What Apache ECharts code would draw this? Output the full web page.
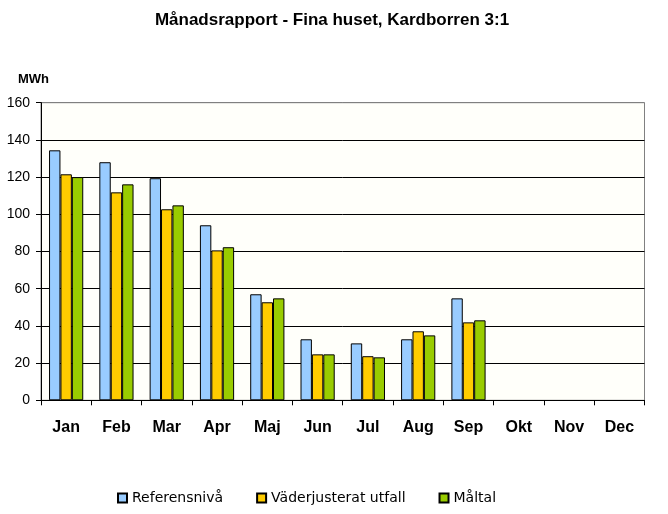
<!DOCTYPE html>
<html>
<head>
<meta charset="utf-8">
<script src="https://cdn.jsdelivr.net/npm/echarts@6/dist/echarts.min.js"></script>
<style>html,body{margin:0;padding:0;background:#fff;}#c{width:668px;height:514px;}</style>
</head>
<body>
<div id="c"></div>
<script>
const months = ['Jan','Feb','Mar','Apr','Maj','Jun','Jul','Aug','Sep','Okt','Nov','Dec'];
const referens = [134.4, 128, 119.4, 94.1, 57, 32.8, 30.6, 32.8, 54.8, null, null, null];
const vaderjusterat = [121.5, 111.8, 102.7, 80.6, 52.7, 24.7, 23.7, 37.1, 41.9, null, null, null];
const maltal = [120, 116.1, 104.8, 82.3, 54.8, 24.7, 23.1, 34.9, 43, null, null, null];
const seriesNames = ['Referensnivå', 'Väderjusterat utfall', 'Måltal'];
const seriesColors = ['#99ccff', '#ffcc00', '#99cc00'];
const seriesData = [referens, vaderjusterat, maltal];

const chart = echarts.init(document.getElementById('c'), null, {renderer: 'canvas'});
const font = 'Liberation Sans, Arial, sans-serif';
chart.setOption({
  animation: false,
  backgroundColor: '#ffffff',
  title: {
    text: 'Månadsrapport - Fina huset, Kardborren 3:1',
    left: 327, top: 7, textAlign: 'center',
    textStyle: {fontFamily: font, fontSize: 17, fontWeight: 'bold', color: '#000'}
  },
  legend: {
    bottom: 4, left: 112,
    itemWidth: 9, itemHeight: 9, itemGap: 33,
    icon: 'rect',
    textStyle: {fontFamily: 'DejaVu Sans, sans-serif', fontSize: 14, color: '#000'},
    data: seriesNames
  },
  grid: {
    left: 41, right: 23.5, top: 102.7, bottom: 113.7,
    show: true, backgroundColor: '#fffffa', borderWidth: 1, borderColor: '#808080'
  },
  xAxis: {
    type: 'category', data: months,
    axisLine: {lineStyle: {color: '#000', width: 1}},
    axisTick: {show: true, length: 5, lineStyle: {color: '#000'}, alignWithLabel: false},
    axisLabel: {fontFamily: font, fontSize: 16, fontWeight: 'bold', color: '#000', margin: 19}
  },
  yAxis: {
    type: 'value', min: 0, max: 160, interval: 20,
    name: 'MWh', nameLocation: 'end', nameGap: 17,
    nameTextStyle: {fontFamily: font, fontSize: 13, fontWeight: 'bold', color: '#000', align: 'left', padding: [0,0,0,-23]},
    axisLine: {show: true, lineStyle: {color: '#000'}},
    axisTick: {show: true, length: 5, lineStyle: {color: '#000'}},
    axisLabel: {fontFamily: font, fontSize: 14, color: '#000', margin: 11},
    splitLine: {show: true, lineStyle: {color: ['#000','#000','#000','#000','#000','#000','#000','#000','#808080'], width: 1}}
  },
  series: seriesData.map((d, i) => ({
    name: seriesNames[i], type: 'bar', data: d,
    barGap: '0%', barCategoryGap: '32%',
    itemStyle: {color: seriesColors[i], borderColor: '#000', borderWidth: 1}
  }))
});
</script>
</body>
</html>
